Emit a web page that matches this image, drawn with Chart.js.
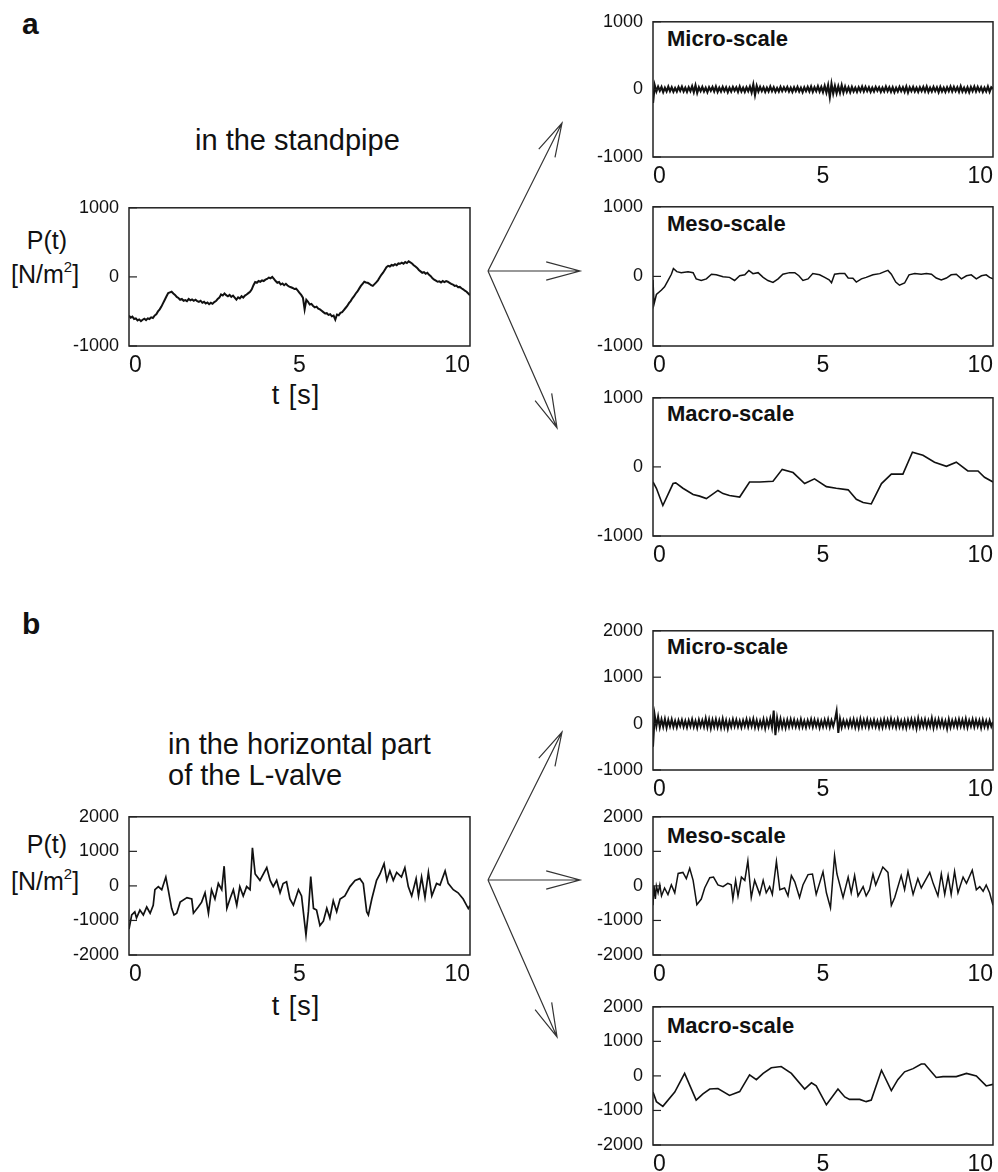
<!DOCTYPE html>
<html><head><meta charset="utf-8">
<script src="https://cdn.jsdelivr.net/npm/chart.js@4.4.1/dist/chart.umd.min.js"></script>
<style>
html,body{margin:0;padding:0;background:#fff;}
body{width:998px;height:1172px;position:relative;overflow:hidden;font-family:"Liberation Sans",Arial,sans-serif;color:#111;}
canvas{position:absolute;}
.t{position:absolute;white-space:nowrap;line-height:1;}
.c{transform:translateX(-50%);}
svg{position:absolute;left:0;top:0;}
sup{font-size:15px;vertical-align:11px;line-height:0;}
</style></head><body>
<div class="t" style="left:22px;top:9px;font-size:30px;font-weight:bold;">a</div>
<div class="t" style="left:22px;top:609px;font-size:30px;font-weight:bold;">b</div>
<div class="t" style="left:195px;top:126px;font-size:29px;">in the standpipe</div>
<div class="t" style="left:168px;top:730px;font-size:29px;">in the horizontal part</div>
<div class="t" style="left:168px;top:761px;font-size:29px;">of the L-valve</div>
<div class="t c" style="left:47px;top:228px;font-size:25px;">P(t)</div>
<div class="t" style="left:11px;top:262px;font-size:25px;">[N/m<sup>2</sup>]</div>
<div class="t c" style="left:47px;top:832px;font-size:25px;">P(t)</div>
<div class="t" style="left:11px;top:869px;font-size:25px;">[N/m<sup>2</sup>]</div>
<div class="t c" style="left:296px;top:382px;font-size:27px;letter-spacing:1px;">t [s]</div>
<div class="t c" style="left:296px;top:993px;font-size:27px;letter-spacing:1px;">t [s]</div>
<div class="t" style="left:667px;top:28px;font-size:22px;font-weight:bold;">Micro-scale</div>
<div class="t" style="left:667px;top:213px;font-size:22px;font-weight:bold;">Meso-scale</div>
<div class="t" style="left:667px;top:403px;font-size:22px;font-weight:bold;">Macro-scale</div>
<div class="t" style="left:667px;top:636px;font-size:22px;font-weight:bold;">Micro-scale</div>
<div class="t" style="left:667px;top:825px;font-size:22px;font-weight:bold;">Meso-scale</div>
<div class="t" style="left:667px;top:1015px;font-size:22px;font-weight:bold;">Macro-scale</div>
<svg id="arrows" width="998" height="1172"></svg>
<script>
// ---------- data ----------
const xTicks = [0, 5, 10];
const yTicksA = [-1000, 0, 1000];
const yTicksB = [-2000, -1000, 0, 1000, 2000];
const yTicksMicroB = [-1000, 0, 1000, 2000];

// (a) standpipe, raw signal, evenly sampled over 0-10 s
const mainA = [
-560,-590,-575,-610,-600,-630,-615,-640,-620,-605,
-625,-600,-610,-585,-595,-560,-540,-500,-470,-430,
-380,-330,-280,-235,-225,-215,-240,-260,-290,-305,
-330,-320,-345,-335,-350,-320,-340,-325,-345,-330,
-350,-360,-345,-375,-360,-385,-370,-395,-375,-390,
-365,-350,-320,-300,-255,-270,-240,-265,-280,-260,
-290,-270,-300,-330,-295,-310,-280,-300,-270,-255,
-235,-215,-180,-120,-75,-85,-60,-70,-50,-60,
-40,-30,-10,-20,0,-30,-60,-85,-75,-110,
-95,-120,-100,-125,-140,-150,-160,-175,-170,-200,
-230,-260,-300,-470,-330,-360,-400,-390,-420,-440,
-430,-460,-470,-490,-510,-530,-525,-550,-540,-570,
-560,-620,-545,-555,-520,-510,-480,-450,-420,-380,
-350,-310,-280,-240,-210,-170,-130,-100,-70,-80,
-85,-100,-120,-130,-105,-80,-50,-10,30,60,
100,140,160,150,175,165,185,170,195,190,
205,190,215,200,225,210,195,170,150,130,
100,80,60,70,45,60,30,10,-20,-40,
-55,-70,-65,-80,-60,-75,-60,-70,-85,-100,
-110,-130,-125,-150,-145,-165,-180,-200,-215,-240,-265];

const microA = [
-200,60,-30,40,-20,35,-40,25,-30,40,
-25,30,-35,20,-30,35,-20,40,-30,25,
-35,30,-25,45,-40,60,-50,30,-25,35,
-30,25,-40,30,-20,35,-30,40,-35,25,
-30,35,-25,30,-40,25,-30,35,-20,30,
-35,40,-30,25,-35,30,-25,40,-45,70,
-80,50,-30,35,-25,30,-35,25,-30,40,
-25,30,-35,20,-30,35,-25,30,-20,35,
-30,25,-35,30,-25,35,-30,25,-40,30,
-25,35,-30,40,-35,30,-25,45,-30,35,
-40,50,-45,60,-110,80,-60,50,-55,45,
-50,60,-45,40,-35,30,-40,35,-30,25,
-35,30,-25,40,-30,35,-25,30,-35,25,
-30,35,-20,30,-35,25,-30,40,-25,30,
-35,30,-40,25,-30,35,-25,30,-35,40,
-45,30,-25,35,-30,25,-35,30,-25,35,
-30,40,-35,25,-30,35,-25,30,-40,35,
-30,25,-35,30,-25,40,-30,35,-25,30,
-35,45,-30,25,-35,30,-40,35,-25,40,
-30,35,-25,30,-35,25,-30,40,-35,30,10];

const mesoAT = [0,0.03,0.1,0.25,0.34,0.44,0.54,0.6,0.7,0.83,1.03,1.18,1.27,1.42,1.57,1.72,1.86,2.06,2.25,2.4,2.55,2.7,2.82,2.94,3.09,3.24,3.38,3.53,3.68,3.82,4.02,4.17,4.29,4.41,4.56,4.7,4.9,5.05,5.18,5.25,5.34,5.49,5.64,5.74,5.88,5.98,6.13,6.27,6.47,6.67,6.81,6.91,7.01,7.14,7.25,7.4,7.53,7.7,7.89,8.04,8.19,8.33,8.48,8.63,8.77,8.92,9.07,9.22,9.36,9.51,9.66,9.8,9.9,10];
const mesoAV = [-50,-400,-260,-195,-150,-60,30,113,68,54,68,54,-36,-59,-36,32,23,-5,-14,-59,9,23,86,40,54,-14,-59,-86,-36,32,54,54,9,-59,-36,40,23,-14,-50,-90,32,40,40,-23,-27,-81,-36,-14,23,40,68,86,32,-81,-127,-95,23,40,32,40,32,-23,-50,-23,23,32,-36,9,23,-36,9,23,-14,-36];

const macroAT = [0,0.1,0.29,0.59,0.67,0.88,1.18,1.37,1.57,1.91,2.06,2.25,2.55,2.84,3.14,3.53,3.8,4.12,4.46,4.75,5.1,5.39,5.74,5.98,6.18,6.42,6.72,7.01,7.16,7.35,7.63,7.94,8.28,8.63,8.92,9.26,9.56,9.75,10];
const macroAV = [-218,-309,-559,-241,-232,-309,-400,-423,-459,-341,-386,-414,-436,-218,-218,-209,-36,-82,-241,-173,-286,-309,-332,-468,-514,-536,-241,-105,-105,-105,214,168,68,9,68,-59,-59,-150,-218];

// (b) L-valve horizontal part
const mainBT = [0,0.08,0.17,0.22,0.32,0.42,0.52,0.62,0.71,0.76,0.86,0.96,1.08,1.15,1.25,1.32,1.40,1.50,1.70,1.84,1.89,2.03,2.13,2.23,2.33,2.42,2.52,2.62,2.72,2.79,2.87,2.96,3.06,3.16,3.25,3.35,3.45,3.55,3.62,3.70,3.84,4.04,4.14,4.23,4.33,4.43,4.52,4.62,4.72,4.82,4.97,5.06,5.19,5.26,5.33,5.41,5.50,5.60,5.70,5.80,5.89,5.99,6.09,6.19,6.33,6.48,6.63,6.77,6.87,6.97,7.02,7.12,7.26,7.36,7.48,7.56,7.65,7.75,7.85,7.99,8.09,8.19,8.29,8.42,8.49,8.58,8.68,8.78,8.88,9.02,9.12,9.27,9.36,9.51,9.65,9.80,9.95,10];
const mainBV = [-1250,-840,-750,-930,-700,-840,-610,-790,-560,-110,-20,-110,255,-110,-650,-840,-790,-470,-340,-380,-790,-610,-470,-200,-790,-110,-380,70,-110,570,-650,-380,-110,-560,-20,-290,-20,-110,1100,345,160,530,160,-20,160,-200,70,120,-380,-560,-110,-290,-1420,-745,270,-650,-700,-1150,-1020,-650,-930,-430,-745,-380,-290,-20,160,210,70,-745,-840,-380,160,345,645,160,436,160,390,255,527,-20,-290,210,-290,255,-336,390,-290,73,27,436,73,-110,-200,-380,-655,-564];

const microB = [
-500,180,-60,150,-80,90,-70,100,-90,80,
-60,90,-70,60,-80,70,-50,80,-70,60,
-80,70,-60,90,-70,60,-90,80,-60,70,
-70,110,-80,90,-100,80,-70,90,-80,70,
-90,100,-80,70,-110,60,-70,90,-60,80,
-70,60,-80,70,-60,90,-70,80,-60,100,
-80,70,-90,60,-70,90,-100,80,-60,110,
-80,280,-250,120,-90,100,-80,70,-90,80,
-70,90,-60,80,-70,60,-80,90,-70,60,
-80,70,-60,90,-70,80,-60,70,-90,60,
-70,80,-60,90,-80,70,-60,80,270,-200,
100,-80,70,-60,60,-70,80,-60,90,-80,
70,-90,100,-70,80,-60,90,-80,70,-60,
80,-70,60,-90,70,-80,90,-60,80,-70,
100,-60,70,-80,90,-70,60,-80,70,-90,
80,-60,90,-70,80,-100,110,-70,80,-60,
90,-80,70,-60,120,-90,80,-70,90,-60,
80,-70,60,-110,90,-80,70,-60,80,-70,
90,-60,80,-70,100,-80,70,-60,90,-70,
80,-60,70,-90,80,-70,60,-80,70,-60,40];

const mesoBT = [0,0.03,0.07,0.1,0.15,0.2,0.25,0.34,0.44,0.54,0.64,0.74,0.88,0.98,1.08,1.18,1.29,1.42,1.52,1.67,1.78,1.91,2.06,2.2,2.3,2.35,2.43,2.5,2.6,2.7,2.79,2.89,2.99,3.14,3.24,3.33,3.43,3.51,3.63,3.73,3.87,3.97,4.07,4.17,4.31,4.41,4.56,4.69,4.8,5.0,5.1,5.22,5.34,5.41,5.59,5.74,5.83,5.93,6.03,6.18,6.27,6.37,6.47,6.55,6.76,6.91,7.01,7.11,7.3,7.4,7.5,7.65,7.79,7.89,8.14,8.24,8.38,8.48,8.58,8.68,8.77,8.87,8.97,9.12,9.22,9.39,9.51,9.61,9.71,9.8,9.9,10];
const mesoBV = [-560,0,-380,0,-200,30,-290,-60,-250,30,-200,360,390,210,510,160,-545,-380,-60,235,255,30,-20,73,30,-380,160,-290,255,160,727,-336,160,-245,160,-200,-20,-245,710,-110,-60,-290,300,118,-336,27,327,345,-245,410,-200,-636,873,345,-336,255,-200,300,-290,-20,-290,-110,345,27,545,390,-560,-336,300,-110,418,-245,210,-60,390,73,-290,345,-245,300,-245,418,-200,255,73,455,-110,-20,-155,27,-200,-560];

const macroBT = [0,0.1,0.29,0.64,0.93,1.27,1.47,1.67,1.91,2.25,2.55,2.84,3.04,3.24,3.48,3.77,4.07,4.46,4.66,4.8,5.1,5.44,5.64,5.78,6.08,6.27,6.42,6.72,7.01,7.2,7.4,7.65,7.89,7.99,8.33,8.53,8.92,9.22,9.51,9.8,10];
const macroBV = [-470,-745,-880,-470,73,-700,-520,-380,-364,-564,-455,27,-110,73,236,273,73,-380,-200,-290,-836,-380,-610,-680,-680,-745,-700,164,-427,-110,118,210,345,345,-45,-20,-20,73,0,-290,-245];

// ---------- helpers ----------
const FF = '"Liberation Sans", Arial, sans-serif';
function even(vals){ const n = vals.length; return vals.map((v,i)=>({x: i*10/(n-1), y: v})); }
function pairs(ts, vs){ return ts.map((t,i)=>({x:t, y:vs[i]})); }

const boxPlugin = {
  id: 'box',
  afterDatasetsDraw(chart){
    const {ctx, chartArea:a, scales:{y}} = chart;
    ctx.save();
    ctx.strokeStyle = '#222';
    ctx.lineWidth = 1.5;
    ctx.strokeRect(a.left, a.top, a.right - a.left, a.bottom - a.top);
    ctx.lineWidth = 1.2;
    y.ticks.forEach(t => {
      const py = y.getPixelForValue(t.value);
      ctx.beginPath(); ctx.moveTo(a.left, py); ctx.lineTo(a.left + 8, py); ctx.stroke();
    });
    ctx.restore();
  }
};

function makeChart(box, pts, yTicks, lw){
  const PADL = 90, PADR = 16, PADT = 12, PADB = 34;
  const c = document.createElement('canvas');
  const w = box.R - box.L + PADL + PADR, h = box.B - box.T + PADT + PADB;
  c.width = w; c.height = h;
  c.style.left = (box.L - PADL) + 'px'; c.style.top = (box.T - PADT) + 'px';
  c.style.width = w + 'px'; c.style.height = h + 'px';
  document.body.appendChild(c);
  new Chart(c, {
    type: 'line',
    data: { datasets: [{ data: pts, borderColor: '#111', borderWidth: lw, pointRadius: 0, tension: 0, fill: false }] },
    options: {
      responsive: false, animation: false, events: [],
      layout: { padding: { top: PADT, right: PADR, left: 0, bottom: 0 } },
      plugins: { legend: { display: false }, tooltip: { enabled: false } },
      scales: {
        x: { type: 'linear', min: 0, max: 10,
             afterBuildTicks: s => { s.ticks = xTicks.map(v => ({ value: v })); },
             grid: { display: false, drawTicks: false }, border: { display: false },
             ticks: { font: { size: 23, family: FF }, color: '#111', padding: 6, maxRotation: 0, autoSkip: false, align: 'inner',
                      callback: v => String(v) },
             afterFit: s => { s.height = PADB; } },
        y: { type: 'linear', min: yTicks[0], max: yTicks[yTicks.length - 1],
             afterBuildTicks: s => { s.ticks = yTicks.map(v => ({ value: v })); },
             grid: { display: false, drawTicks: false }, border: { display: false },
             ticks: { font: { size: 18, family: FF }, color: '#111', padding: 10, autoSkip: false,
                      callback: v => String(v) },
             afterFit: s => { s.width = PADL; } }
      }
    },
    plugins: [boxPlugin]
  });
}

makeChart({L:129, R:470, T:199, B:346}, even(mainA), yTicksA, 2.0);
makeChart({L:653, R:993, T:13,  B:157}, even(microA), yTicksA, 2.2);
makeChart({L:653, R:993, T:198, B:346}, pairs(mesoAT, mesoAV), yTicksA, 1.5);
makeChart({L:653, R:993, T:389, B:536}, pairs(macroAT, macroAV), yTicksA, 1.6);
makeChart({L:129, R:470, T:808, B:955}, pairs(mainBT, mainBV), yTicksB, 1.7);
makeChart({L:653, R:993, T:622, B:770}, even(microB), yTicksMicroB, 2.0);
makeChart({L:653, R:993, T:808, B:955}, pairs(mesoBT, mesoBV), yTicksB, 1.5);
makeChart({L:653, R:993, T:998, B:1145}, pairs(macroBT, macroBV), yTicksB, 1.6);

// ---------- arrows ----------
const svg = document.getElementById('arrows');
function arrow(x0, y0, x1, y1){
  const NS = 'http://www.w3.org/2000/svg';
  const dx = x0 - x1, dy = y0 - y1, len = Math.hypot(dx, dy);
  const ux = dx / len, uy = dy / len, L = 35, a = 15 * Math.PI / 180;
  const p1 = [x1 + L*(ux*Math.cos(a) - uy*Math.sin(a)), y1 + L*(ux*Math.sin(a) + uy*Math.cos(a))];
  const p2 = [x1 + L*(ux*Math.cos(a) + uy*Math.sin(a)), y1 + L*(-ux*Math.sin(a) + uy*Math.cos(a))];
  const pl = document.createElementNS(NS, 'path');
  pl.setAttribute('d', `M${x0},${y0} L${x1},${y1} M${p1[0]},${p1[1]} L${x1},${y1} L${p2[0]},${p2[1]}`);
  pl.setAttribute('stroke', '#333'); pl.setAttribute('stroke-width', '1.2'); pl.setAttribute('fill', 'none');
  svg.appendChild(pl);
}
[[271, 123, 428], [880, 732, 1037]].forEach(([oy, upY, dnY]) => {
  arrow(488, oy, 562, upY);
  arrow(488, oy, 580, oy);
  arrow(488, oy, 557, dnY);
});
</script>
</body></html>
